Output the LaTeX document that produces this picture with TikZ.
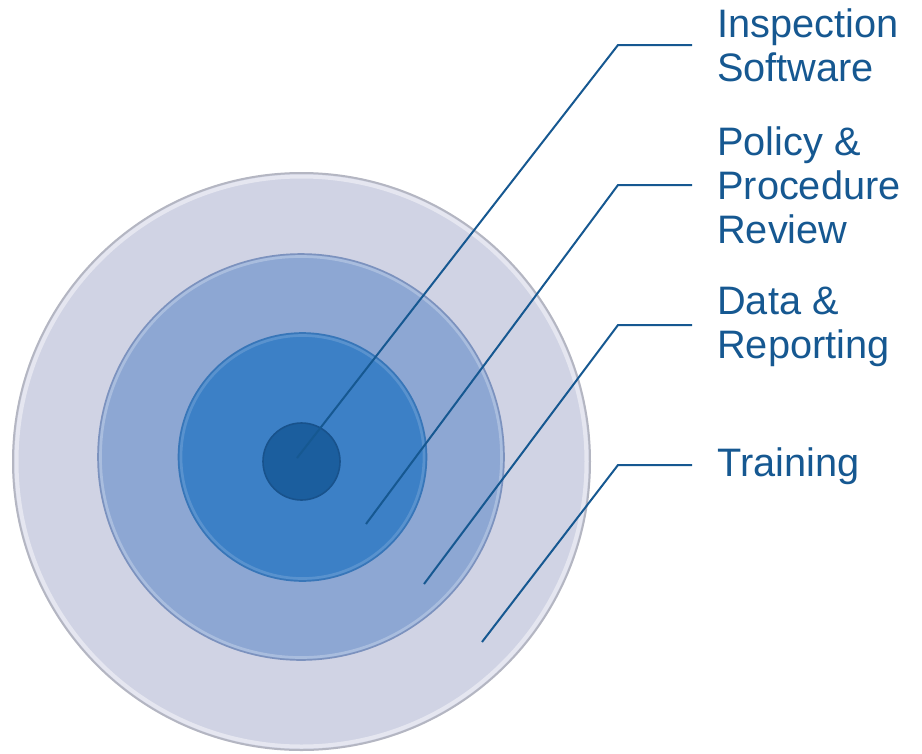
\documentclass[tikz,border=0pt]{standalone}
\usepackage{fontspec}
\setmainfont{Liberation Sans}
\usepackage{tikz}

\definecolor{leadblue}{RGB}{22,88,145}
\definecolor{ringgrey}{RGB}{208,211,228}
\definecolor{ringgreyedge}{RGB}{180,182,194}
\definecolor{ringmid}{RGB}{141,167,211}
\definecolor{ringmidedge}{RGB}{124,146,190}
\definecolor{ringblue}{RGB}{60,128,198}
\definecolor{ringblueedge}{RGB}{56,118,184}
\definecolor{bullcore}{RGB}{27,94,158}
\definecolor{bullcoreedge}{RGB}{24,82,140}

\tikzset{
  leader/.style={draw=leadblue, line width=1.5, line join=miter},
  steplabel/.style={anchor=north west, inner xsep=18.75pt, inner ysep=0pt, align=left,
    text=leadblue, font=\fontsize{29.8}{33}\selectfont},
}

\begin{document}
\begin{tikzpicture}[x=0.75pt,y=0.75pt,yscale=-1,xscale=1]
\useasboundingbox (0,0) rectangle (922,754);

%Shape: Circle [outer ring]
\draw [color=ringgreyedge, fill=ringgrey, line width=1.5] (301.5,461.5) circle [radius=288.5];
\draw [color=white, opacity=0.45, line width=3] (301.5,461.5) circle [radius=285];
%Shape: Circle [second ring]
\draw [color=ringmidedge, fill=ringmid, line width=1.2] (301,457) circle [radius=203];
\draw [color=white, opacity=0.25, line width=2] (301,457) circle [radius=200.5];
%Shape: Circle [third ring]
\draw [color=ringblueedge, fill=ringblue, line width=1.2] (302.5,457) circle [radius=124];
\draw [color=white, opacity=0.15, line width=2] (302.5,457) circle [radius=121.5];
%Shape: Circle [bullseye]
\draw [color=bullcoreedge, fill=bullcore, line width=1.2] (301.5,461.5) circle [radius=38.5];

% Text Node
\node (insp) [steplabel] at (692,8) {Inspection\\Software};
% Text Node
\node (policy) [steplabel] at (692,126) {Policy \&\\Procedure\\Review};
% Text Node
\node (data) [steplabel] at (692,287) {Data \&\\Reporting};
% Text Node
\node (train) [steplabel] at (692,447) {Training};

%Straight Lines [inspection]
\coordinate (insp-tip) at (297,458);
\coordinate (insp-knee) at (618,45);
\draw [leader] (insp-tip) -- (insp-knee) -- (insp-knee -| insp.west);
%Straight Lines [policy]
\coordinate (policy-tip) at (366,524);
\coordinate (policy-knee) at (618,185);
\draw [leader] (policy-tip) -- (policy-knee) -- (policy-knee -| policy.west);
%Straight Lines [data]
\coordinate (data-tip) at (424,584);
\coordinate (data-knee) at (618,325);
\draw [leader] (data-tip) -- (data-knee) -- (data-knee -| data.west);
%Straight Lines [training]
\coordinate (train-tip) at (482,642);
\coordinate (train-knee) at (618,465);
\draw [leader] (train-tip) -- (train-knee) -- (train-knee -| train.west);

\end{tikzpicture}
\end{document}
